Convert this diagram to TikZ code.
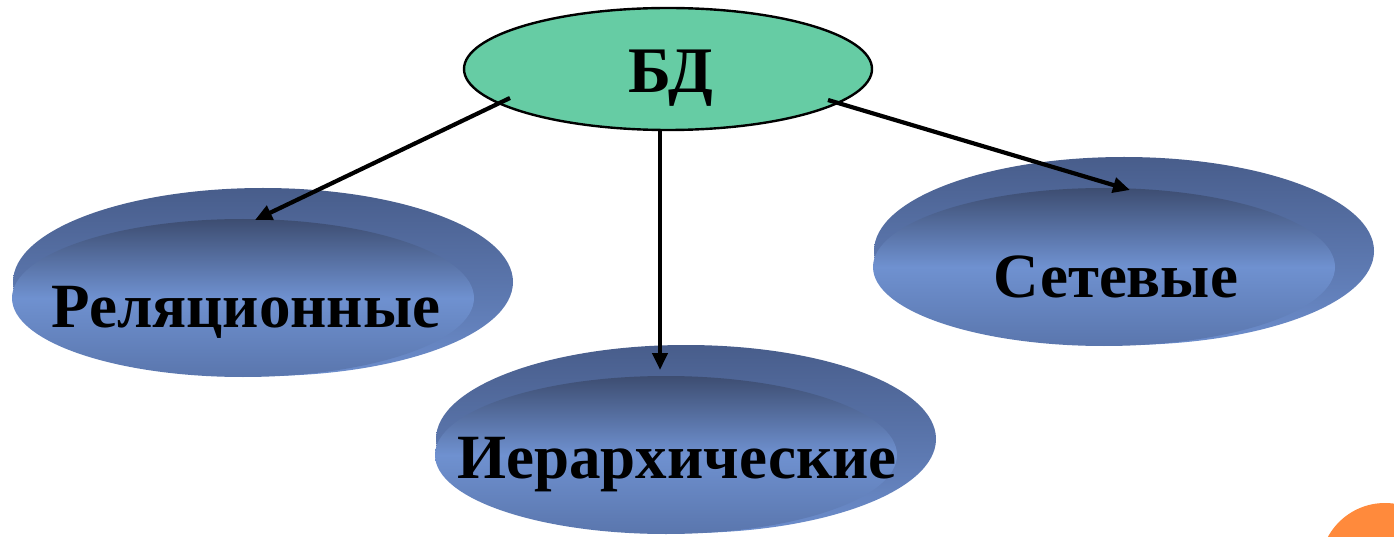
\documentclass[tikz,border=0pt]{standalone}
\usepackage{fontspec}
\setmainfont{Liberation Serif}
\usetikzlibrary{shapes.geometric,arrows.meta}

\definecolor{bdgreen}{HTML}{66CCA4}
\definecolor{rimtop}{HTML}{485D8B}
\definecolor{rimbot}{HTML}{6C8DCC}
\definecolor{facetop}{HTML}{3D4D71}
\definecolor{facemid}{HTML}{6F91D0}
\definecolor{facebot}{HTML}{5A76AD}
\definecolor{accent}{HTML}{FF8A3C}

\tikzset{
  rim/.style={ellipse, minimum width=500pt, minimum height=188pt, inner sep=0pt,
    top color=rimtop, bottom color=rimbot, draw=none},
  face/.style={ellipse, minimum width=462pt, minimum height=158pt, inner sep=0pt,
    top color=facetop, bottom color=facebot, middle color=facemid, draw=none},
  kindtext/.style={font=\bfseries\fontsize{63}{66}\selectfont, anchor=base, inner sep=0pt},
  rootbox/.style={ellipse, minimum width=408pt, minimum height=122pt, inner sep=0pt,
    fill=bdgreen, draw=black, line width=2.4pt},
  roottext/.style={font=\bfseries\fontsize{65}{68}\selectfont, anchor=base, inner sep=0pt},
  arr/.style={-{Triangle[length=17pt,width=15pt]}, line width=4.2pt}
}

\begin{document}
\begin{tikzpicture}[x=1pt, y=-1pt]
  \useasboundingbox (0,0) rectangle (1394,537);
  \fill[white] (0,0) rectangle (1394,537);

  % corner accent
  \begin{scope}
    \clip (0,0) rectangle (1394,537);
    \fill[accent] (1385,568) circle (65pt);
  \end{scope}

  % relational
  \node[rim]  (relrim)  at (263,282) {};
  \node[face] (relface) at (243,298) {};
  \node[kindtext] (rel) at (246,327) {Реляционные};

  % hierarchical
  \node[rim]  (hierrim)  at (686,439) {};
  \node[face] (hierface) at (666,455) {};
  \node[kindtext] (hier) at (677,478) {Иерархические};

  % network
  \node[rim]  (netrim)  at (1124,251) {};
  \node[face] (netface) at (1104,267) {};
  \node[kindtext] (net) at (1116,297) {Сетевые};

  % root
  \node[rootbox] (bd) at (668,69) {};
  \node[roottext] (bdtext) at (671,93) {БД};

  % connector ends
  \coordinate (s1) at (510,98);
  \coordinate (s2) at (660,130);
  \coordinate (s3) at (828,100);
  \coordinate (t1) at (255,220);
  \coordinate (t2) at (660,370);
  \coordinate (t3) at (1130,190);

  \draw[arr] (s1) -- (t1);
  \draw[arr] (s2) -- (t2);
  \draw[arr] (s3) -- (t3);
\end{tikzpicture}
\end{document}
